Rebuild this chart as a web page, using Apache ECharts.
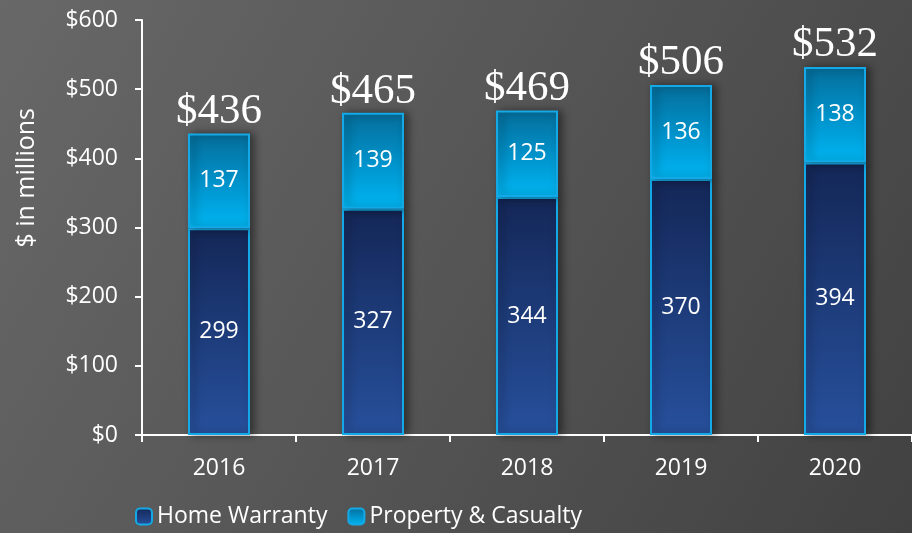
<!DOCTYPE html>
<html>
<head>
<meta charset="utf-8">
<script src="https://cdn.jsdelivr.net/npm/echarts@6/dist/echarts.min.js"></script>
<style>
html, body { margin: 0; padding: 0; }
#box { width: 912px; height: 533px; }
</style>
</head>
<body>
<div id="box"></div>
<script>
// data
const years = ['2016', '2017', '2018', '2019', '2020'];
const homeWarranty = [299, 327, 344, 370, 394];
const propertyCasualty = [137, 139, 125, 136, 138];
const totals = [436, 465, 469, 506, 532];
const yTicks = [0, 100, 200, 300, 400, 500, 600];

const chart = echarts.init(document.getElementById('box'));

const darkBlue = new echarts.graphic.LinearGradient(0, 0, 0, 1, [
	{ offset: 0, color: '#142757' },
	{ offset: 1, color: '#27509c' }
]);
const lightBlue = new echarts.graphic.LinearGradient(0, 0, 0, 1, [
	{ offset: 0, color: '#056d9a' },
	{ offset: 0.6, color: '#0098d2' },
	{ offset: 1, color: '#00b6f2' }
]);
const txt = '#ffffff';
const sans = '"Open Sans", "Noto Sans", sans-serif';

const option = {
	backgroundColor: new echarts.graphic.LinearGradient(0, 0, 1, 1, [
		{ offset: 0, color: '#686868' },
		{ offset: 0.5, color: '#555555' },
		{ offset: 1, color: '#414141' }
	]),
	grid: { left: 142, right: -8, top: 20, bottom: 98 },
	legend: {
		left: 130,
		bottom: 0,
		itemWidth: 16,
		itemHeight: 16,
		itemGap: 20,
		textStyle: { color: txt, fontSize: 23, fontFamily: sans },
		data: ['Home Warranty', 'Property & Casualty']
	},
	graphic: [{
		type: 'text',
		left: 14,
		top: 108,
		rotation: Math.PI / 2,
		style: { text: '$ in millions', fill: txt, font: '25px ' + sans }
	}],
	xAxis: {
		type: 'category',
		data: years,
		axisLine: { lineStyle: { color: '#ffffff', width: 2 } },
		axisTick: { show: true, length: 7, lineStyle: { color: '#ffffff', width: 2 } },
		axisLabel: { color: txt, fontSize: 23, fontFamily: sans, margin: 22 }
	},
	yAxis: {
		type: 'value',
		min: yTicks[0],
		max: yTicks[yTicks.length - 1],
		interval: 100,
		splitLine: { show: false },
		axisLine: { show: true, lineStyle: { color: '#ffffff', width: 2 } },
		axisTick: { show: true, length: 7, lineStyle: { color: '#ffffff', width: 2 } },
		axisLabel: { color: txt, fontSize: 23, fontFamily: sans, margin: 24, formatter: v => '$' + v }
	},
	series: [
		{
			name: 'Home Warranty',
			type: 'bar',
			stack: 'rev',
			barWidth: 62,
			data: homeWarranty,
			itemStyle: {
				color: darkBlue,
				borderColor: '#12a9e6',
				borderWidth: 2,
				shadowColor: 'rgba(0,0,0,0.45)',
				shadowBlur: 8,
				shadowOffsetX: 4
			},
			label: { show: true, position: 'inside', color: '#ffffff', fontSize: 23, fontFamily: sans }
		},
		{
			name: 'Property & Casualty',
			type: 'bar',
			stack: 'rev',
			barWidth: 62,
			data: propertyCasualty,
			itemStyle: {
				color: lightBlue,
				borderColor: '#12a9e6',
				borderWidth: 2,
				shadowColor: 'rgba(0,0,0,0.45)',
				shadowBlur: 8,
				shadowOffsetX: 4
			},
			label: { show: true, position: 'inside', color: '#ffffff', fontSize: 23, fontFamily: sans }
		},
		{
			name: 'total',
			type: 'scatter',
			data: totals,
			symbolSize: 1,
			itemStyle: { color: 'rgba(0,0,0,0)', opacity: 1 },
			label: {
				show: true,
				position: 'top',
				distance: 0,
				color: '#ffffff',
				fontSize: 43,
				fontFamily: '"Liberation Serif", "DejaVu Serif", serif',
				formatter: p => '$' + p.value
			},
			z: 5
		}
	]
};
chart.setOption(option);
</script>
</body>
</html>
